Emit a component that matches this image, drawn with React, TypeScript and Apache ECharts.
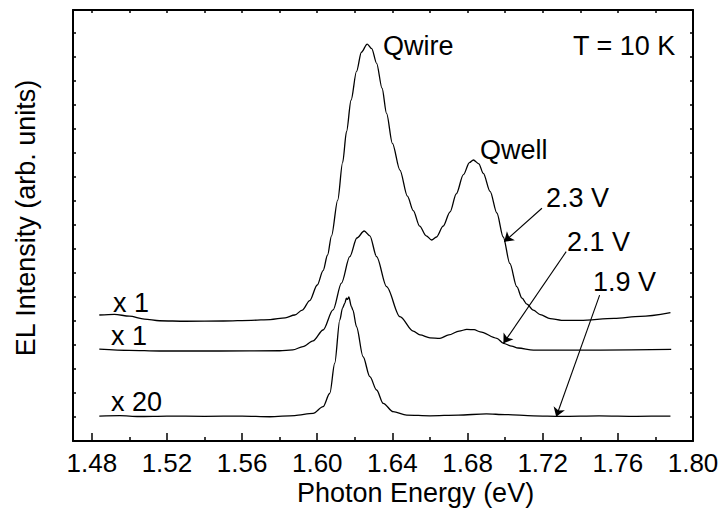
import React, { useEffect, useRef } from 'react';
import * as echarts from 'echarts';

// ---- data (energy in eV, intensity in arbitrary units) ----
const energy23 = [1.484, 1.492, 1.5, 1.508, 1.516, 1.53, 1.55, 1.565, 1.575, 1.583, 1.588, 1.592, 1.596, 1.6, 1.6031, 1.6055, 1.6076, 1.6109, 1.6135, 1.6156, 1.618, 1.6209, 1.6235, 1.6266, 1.629, 1.6316, 1.6345, 1.6369, 1.64, 1.644, 1.648, 1.6511, 1.6545, 1.658, 1.6609, 1.6635, 1.667, 1.6707, 1.674, 1.6778, 1.681, 1.6831, 1.686, 1.6884, 1.692, 1.6956, 1.699, 1.7025, 1.7062, 1.709, 1.7116, 1.715, 1.7187, 1.724, 1.73, 1.74, 1.758, 1.772, 1.788];
const intensity23 = [5.25, 5.28, 5.2, 5.08, 5.01, 4.99, 5.0, 5.03, 5.06, 5.13, 5.25, 5.45, 5.85, 6.5, 7.1, 7.75, 8.55, 10.04, 11.6, 12.9, 14.2, 15.4, 16.2, 16.54, 16.35, 15.74, 14.7, 13.65, 12.4, 11.29, 10.2, 9.6, 8.95, 8.55, 8.375, 8.5, 8.95, 9.55, 10.3, 11.1, 11.6, 11.71, 11.55, 11.15, 10.4, 9.5, 8.5, 7.4, 6.43, 5.95, 5.7, 5.45, 5.27, 5.1, 5.03, 5.03, 5.11, 5.19, 5.35];

const energy21 = [1.484, 1.5, 1.516, 1.548, 1.58, 1.587, 1.5924, 1.5978, 1.6031, 1.6084, 1.6129, 1.6173, 1.6211, 1.625, 1.628, 1.6316, 1.6369, 1.644, 1.6511, 1.6547, 1.66, 1.6653, 1.67, 1.6755, 1.6796, 1.6835, 1.6867, 1.6956, 1.6991, 1.7035, 1.7069, 1.7151, 1.7507, 1.7884];
const intensity21 = [3.83, 3.78, 3.75, 3.75, 3.76, 3.8, 3.93, 4.17, 4.625, 5.46, 6.58, 7.68, 8.46, 8.75, 8.55, 7.68, 6.43, 5.18, 4.58, 4.42, 4.3, 4.28, 4.42, 4.58, 4.65, 4.64, 4.55, 4.28, 4.07, 3.95, 3.875, 3.79, 3.79, 3.82];

const energy19 = [1.484, 1.495, 1.505, 1.52, 1.54, 1.56, 1.5747, 1.588, 1.5978, 1.6031, 1.6067, 1.6093, 1.612, 1.6135, 1.6147, 1.6155, 1.6161, 1.6168, 1.6182, 1.619, 1.6209, 1.6244, 1.628, 1.6316, 1.6351, 1.6404, 1.6476, 1.66, 1.675, 1.69, 1.7, 1.715, 1.73, 1.75, 1.77, 1.788];
const intensity19 = [1.04, 1.06, 1.02, 1.04, 1.03, 1.04, 1.01, 1.06, 1.15, 1.43, 1.99, 3.24, 5.04, 5.55, 5.74, 5.95, 5.9, 6.0, 5.6, 5.45, 4.76, 3.51, 2.68, 2.125, 1.57, 1.22, 1.08, 1.05, 1.08, 1.13, 1.1, 1.05, 1.03, 1.05, 1.03, 1.04];

// arrows: [startEnergy, startIntensity] -> [tipEnergy, tipIntensity]
const arrowStarts = [[1.7196, 9.7], [1.7325, 7.89], [1.7503, 6.08]];
const arrowTips = [[1.6995, 8.3], [1.6991, 4.07], [1.7272, 1.01]];

const xMin = 1.47;
const xMax = 1.8;
const xStep = 0.04;
const yMin = 0;
const yMax = 17.96;

const FONT = '"Liberation Sans", Arial, Helvetica, sans-serif';

const GRID = { left: 73, right: 30, top: 10, bottom: 69 };
const W = 723;
const H = 510;

export default function App() {
  const ref = useRef<HTMLDivElement>(null);

  useEffect(() => {
    const chart = echarts.init(ref.current as HTMLDivElement, null, { renderer: 'svg' });
    const pair = (xs: number[], ys: number[]) => xs.map((x, i) => [x, ys[i]]);
    const lineSeries = (name: string, xs: number[], ys: number[], extra: any = {}) => ({
      type: 'line',
      name,
      data: pair(xs, ys),
      showSymbol: false,
      symbol: 'none',
      smooth: 0.3,
      smoothMonotone: 'x',
      silent: true,
      lineStyle: { color: '#000', width: 1.3 },
      ...extra,
    });
    const mkLine = () => ({ show: true, onZero: false, lineStyle: { color: '#000', width: 1.5 } });
    const mkTick = (len: number) => ({ show: true, inside: true, length: len, lineStyle: { color: '#000', width: 1.5 } });
    const txt = (text: string, x: number, y: number, extra: any = {}) => ({
      type: 'text',
      x,
      y,
      silent: true,
      ...extra,
      style: {
        text,
        fill: '#000',
        fontSize: 27,
        fontFamily: FONT,
        align: 'left',
        verticalAlign: 'middle',
        ...(extra.style || {}),
      },
    });
    const frameEdges = [
      [[xMin, yMin], [xMax, yMin]],
      [[xMin, yMax], [xMax, yMax]],
      [[xMin, yMin], [xMin, yMax]],
      [[xMax, yMin], [xMax, yMax]],
    ];

    chart.setOption({
      animation: false,
      backgroundColor: '#fff',
      grid: {
        ...GRID,
        containLabel: false,
        show: true,
        borderColor: '#000',
        borderWidth: 1.5,
        backgroundColor: 'transparent',
      },
      xAxis: [
        {
          type: 'value',
          position: 'bottom',
          min: xMin,
          max: xMax,
          minInterval: xStep,
          maxInterval: xStep,
          axisLine: mkLine(),
          axisTick: mkTick(8),
          minorTick: { show: true, splitNumber: 2, length: 4, lineStyle: { color: '#000', width: 1.5 } },
          splitLine: { show: false },
          minorSplitLine: { show: false },
          axisLabel: {
            color: '#000',
            fontSize: 26,
            fontFamily: FONT,
            margin: 9,
            showMinLabel: false,
            formatter: (v: number) =>
              Math.abs(v / xStep - Math.round(v / xStep)) < 1e-6 ? v.toFixed(2) : '',
          },
        },
        {
          type: 'value',
          position: 'top',
          min: xMin,
          max: xMax,
          minInterval: xStep,
          maxInterval: xStep,
          axisLine: mkLine(),
          axisTick: mkTick(3),
          minorTick: { show: true, splitNumber: 2, length: 3, lineStyle: { color: '#000', width: 1.5 } },
          splitLine: { show: false },
          minorSplitLine: { show: false },
          axisLabel: { show: false },
        },
      ],
      yAxis: [
        {
          type: 'value',
          position: 'left',
          min: yMin,
          max: yMax,
          interval: 1,
          axisLine: mkLine(),
          axisTick: mkTick(3),
          splitLine: { show: false },
          axisLabel: { show: false },
        },
        {
          type: 'value',
          position: 'right',
          min: yMin,
          max: yMax,
          interval: 1,
          axisLine: mkLine(),
          axisTick: mkTick(3),
          splitLine: { show: false },
          axisLabel: { show: false },
        },
      ],
      series: [
        lineSeries('2.3 V', energy23, intensity23, {
          markLine: {
            silent: true,
            symbol: ['none', 'arrow'],
            symbolSize: 9,
            label: { show: false },
            lineStyle: { type: 'solid', color: '#000', width: 1.1 },
            emphasis: { disabled: true },
            data: arrowStarts.map((s, i) => [{ coord: s }, { coord: arrowTips[i] }]),
          },
        }),
        lineSeries('2.1 V', energy21, intensity21, {
          clip: false,
          markLine: {
            silent: true,
            symbol: ['none', 'none'],
            label: { show: false },
            lineStyle: { type: 'solid', color: '#000', width: 1.5 },
            emphasis: { disabled: true },
            data: frameEdges.map((e) => [{ coord: e[0] }, { coord: e[1] }]),
          },
        }),
        lineSeries('1.9 V', energy19, intensity19),
        {
          type: 'custom',
          name: 'frame',
          silent: true,
          clip: false,
          z: 20,
          data: [[xMin, yMin]],
          renderItem: (params: any, api: any) => {
            const p0 = api.coord([xMin, yMax]);
            const p1 = api.coord([xMax, yMin]);
            return {
              type: 'rect',
              shape: { x: p0[0], y: p0[1], width: p1[0] - p0[0], height: p1[1] - p0[1] },
              style: { fill: 'none', stroke: '#000', lineWidth: 1.5 },
            };
          },
        },
      ],
      graphic: [
        txt('Qwire', 383, 46),
        txt('Qwell', 480, 150),
        txt('T = 10 K', 573, 46),
        txt('2.3 V', 546, 198),
        txt('2.1 V', 567, 242),
        txt('1.9 V', 593, 282),
        txt('x 1', 113, 303),
        txt('x 1', 111, 336),
        txt('x 20', 111, 402),
        txt('Photon Energy (eV)', 297, 493),
        txt('EL Intensity (arb. units)', 26, 218, {
          rotation: Math.PI / 2,
          style: { align: 'center', verticalAlign: 'middle' },
        }),
      ],
    });
    return () => chart.dispose();
  }, []);

  return (
    <div
      ref={ref}
      style={{ position: 'fixed', left: 0, top: 0, width: W, height: H, background: '#fff' }}
    />
  );
}
